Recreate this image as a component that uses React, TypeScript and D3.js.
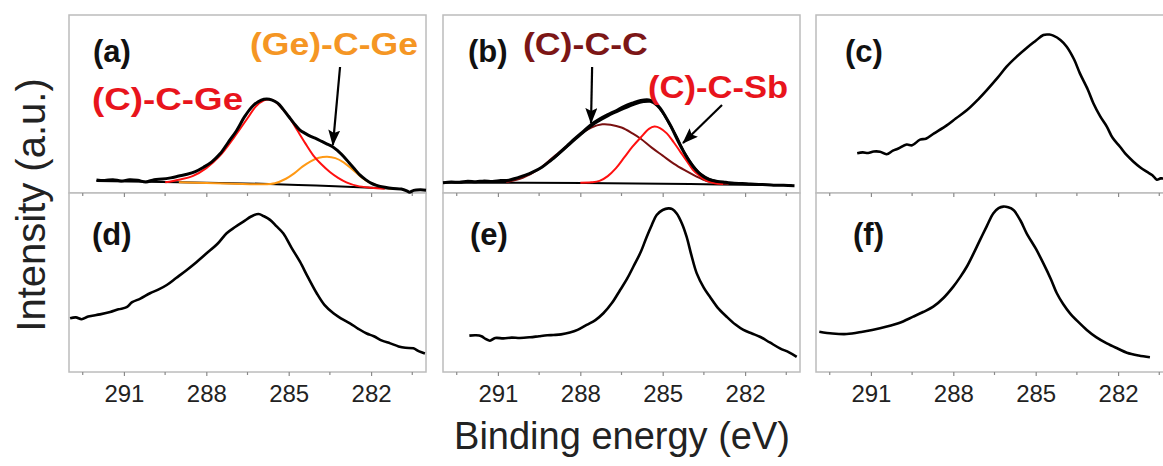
import React, { useEffect, useRef } from 'react';
import * as d3 from 'd3';

type Pt = [number, number]; // [binding energy (eV), intensity (a.u., 0..1 of panel)]

// x axis
const energyDomain: [number, number] = [293, 280];
const majorTicks = [291, 288, 285, 282];
const minorTicks = [292.5, 289.5, 286.5, 283.5, 280.5];

// (a) measured spectrum + fit
const aData: Pt[] = [
  [292.0, 0.073], [291.7, 0.070], [291.4, 0.075], [291.1, 0.068], [290.8, 0.074], [290.5, 0.071],
  [290.2, 0.062], [289.9, 0.075], [289.6, 0.078], [289.3, 0.085], [289.0, 0.095], [288.7, 0.105],
  [288.4, 0.12], [288.1, 0.145], [287.8, 0.175], [287.5, 0.22], [287.2, 0.285], [286.9, 0.35],
  [286.6, 0.43], [286.3, 0.49], [286.0, 0.522], [285.8, 0.528], [285.6, 0.522], [285.4, 0.505],
  [285.2, 0.47], [285.0, 0.43], [284.8, 0.39], [284.6, 0.355], [284.4, 0.335], [284.2, 0.318],
  [284.0, 0.305], [283.8, 0.29], [283.6, 0.275], [283.4, 0.26], [283.2, 0.235], [283.0, 0.205],
  [282.8, 0.17], [282.6, 0.135], [282.4, 0.10], [282.2, 0.075], [282.0, 0.055], [281.8, 0.043],
  [281.5, 0.032], [281.2, 0.025], [280.9, 0.022], [280.7, 0.012], [280.6, 0.004], [280.45, 0.015],
  [280.2, 0.018], [280.0, 0.016],
];
const aBackground: Pt[] = [[292.0, 0.067], [289.0, 0.06], [286.0, 0.052], [284.0, 0.042], [282.0, 0.03], [281.0, 0.022]];
const aCCGe: Pt[] = [
  [289.5, 0.06], [289.0, 0.075], [288.5, 0.095], [288.0, 0.14], [287.5, 0.21], [287.0, 0.31],
  [286.5, 0.42], [286.2, 0.485], [285.9, 0.52], [285.7, 0.525], [285.5, 0.515], [285.3, 0.485],
  [285.0, 0.43], [284.7, 0.355], [284.4, 0.28], [284.1, 0.21], [283.8, 0.16], [283.5, 0.118],
  [283.2, 0.085], [282.9, 0.06], [282.5, 0.04], [282.0, 0.03], [281.5, 0.024],
];
const aGeCGe: Pt[] = [
  [289.0, 0.06], [288.0, 0.056], [287.0, 0.052], [286.0, 0.049], [285.5, 0.055], [285.1, 0.08],
  [284.8, 0.11], [284.5, 0.148], [284.2, 0.178], [283.9, 0.198], [283.6, 0.204], [283.3, 0.196],
  [283.0, 0.172], [282.7, 0.135], [282.4, 0.095], [282.1, 0.062], [281.8, 0.043], [281.5, 0.03],
  [281.2, 0.024],
];

// (b) measured spectrum + fit
const bData: Pt[] = [
  [293.0, 0.058], [292.7, 0.062], [292.4, 0.060], [292.1, 0.066], [291.8, 0.063], [291.5, 0.068],
  [291.2, 0.065], [290.9, 0.070], [290.6, 0.072], [290.3, 0.085], [290.0, 0.10], [289.7, 0.12],
  [289.4, 0.145], [289.1, 0.18], [288.8, 0.22], [288.5, 0.262], [288.2, 0.305], [287.9, 0.345],
  [287.6, 0.385], [287.3, 0.415], [287.0, 0.44], [286.7, 0.462], [286.4, 0.487], [286.1, 0.505],
  [285.8, 0.52], [285.5, 0.523], [285.3, 0.51], [285.1, 0.478], [284.9, 0.43], [284.7, 0.375],
  [284.5, 0.31], [284.3, 0.25], [284.1, 0.195], [283.9, 0.15], [283.7, 0.115], [283.5, 0.09],
  [283.3, 0.075], [283.0, 0.065], [282.7, 0.06], [282.4, 0.055], [282.1, 0.053], [281.8, 0.05],
  [281.5, 0.048], [281.2, 0.047], [280.9, 0.044], [280.6, 0.043], [280.2, 0.041],
];
const bEnvelope: Pt[] = [
  [289.0, 0.19], [288.5, 0.258], [288.0, 0.325], [287.5, 0.388], [287.0, 0.432], [286.5, 0.468],
  [286.0, 0.5], [285.7, 0.512], [285.45, 0.513], [285.2, 0.49], [285.0, 0.452], [284.8, 0.4],
  [284.5, 0.318], [284.2, 0.225], [283.9, 0.155], [283.6, 0.105], [283.3, 0.078], [283.0, 0.064],
];
const bBackground: Pt[] = [[293.0, 0.058], [290.0, 0.058], [287.0, 0.055], [284.0, 0.05], [281.0, 0.045], [280.3, 0.043]];
const bCCC: Pt[] = [
  [290.7, 0.06], [290.1, 0.085], [289.5, 0.135], [289.0, 0.2], [288.5, 0.262], [288.0, 0.33],
  [287.6, 0.368], [287.2, 0.386], [286.9, 0.384], [286.5, 0.368], [286.1, 0.335], [285.8, 0.305],
  [285.4, 0.255], [285.0, 0.21], [284.6, 0.165], [284.2, 0.128], [283.8, 0.095], [283.4, 0.067],
  [283.0, 0.055], [282.6, 0.05],
];
const bCCSb: Pt[] = [
  [288.0, 0.058], [287.6, 0.06], [287.3, 0.068], [287.0, 0.095], [286.7, 0.14], [286.4, 0.2],
  [286.1, 0.26], [285.8, 0.312], [285.5, 0.36], [285.3, 0.373], [285.1, 0.365], [284.85, 0.335],
  [284.6, 0.285], [284.35, 0.23], [284.1, 0.175], [283.9, 0.13], [283.65, 0.095], [283.4, 0.068],
  [283.1, 0.055], [282.8, 0.05],
];

// (c)-(f) measured spectra
const cData: Pt[] = [
  [291.5, 0.223], [291.3, 0.228], [291.1, 0.225], [290.9, 0.233], [290.67, 0.232], [290.43, 0.218],
  [290.2, 0.238], [290.0, 0.25], [289.7, 0.272], [289.5, 0.268], [289.21, 0.30], [289.0, 0.305],
  [288.7, 0.335], [288.24, 0.38], [287.9, 0.42], [287.5, 0.466], [287.1, 0.525], [286.78, 0.578],
  [286.4, 0.645], [286.06, 0.71], [285.7, 0.765], [285.33, 0.815], [285.0, 0.855], [284.72, 0.888],
  [284.5, 0.89], [284.36, 0.884], [284.1, 0.86], [283.87, 0.822], [283.6, 0.75], [283.39, 0.672],
  [283.1, 0.58], [282.9, 0.504], [282.65, 0.43], [282.41, 0.373], [282.2, 0.31], [281.93, 0.26],
  [281.7, 0.215], [281.44, 0.176], [281.2, 0.145], [280.96, 0.12], [280.75, 0.1], [280.59, 0.075],
  [280.45, 0.082], [280.3, 0.08],
];
const dData: Pt[] = [
  [292.96, 0.30], [292.75, 0.305], [292.54, 0.295], [292.3, 0.31], [291.87, 0.322], [291.5, 0.335],
  [291.2, 0.35], [290.9, 0.362], [290.7, 0.39], [290.4, 0.41], [290.05, 0.44], [289.75, 0.46],
  [289.44, 0.486], [289.1, 0.525], [288.71, 0.57], [288.35, 0.615], [287.99, 0.663], [287.6, 0.715],
  [287.26, 0.775], [286.95, 0.81], [286.65, 0.84], [286.35, 0.87], [286.1, 0.883], [285.9, 0.87],
  [285.68, 0.85], [285.45, 0.815], [285.2, 0.775], [284.9, 0.695], [284.59, 0.616], [284.3, 0.53],
  [283.98, 0.44], [283.7, 0.375], [283.37, 0.328], [283.1, 0.3], [282.77, 0.272], [282.45, 0.24],
  [282.16, 0.215], [281.9, 0.2], [281.6, 0.175], [281.3, 0.16], [281.0, 0.143], [280.75, 0.135],
  [280.46, 0.132], [280.25, 0.115], [280.04, 0.104],
];
const eData: Pt[] = [
  [292.04, 0.203], [291.8, 0.205], [291.6, 0.2], [291.45, 0.185], [291.29, 0.175], [291.1, 0.19],
  [290.8, 0.188], [290.5, 0.192], [290.2, 0.19], [289.83, 0.194], [289.5, 0.2], [289.2, 0.205],
  [288.98, 0.207], [288.7, 0.21], [288.38, 0.22], [288.1, 0.235], [287.77, 0.263], [287.45, 0.29],
  [287.16, 0.328], [286.85, 0.385], [286.55, 0.458], [286.3, 0.52], [286.07, 0.588], [285.8, 0.67],
  [285.58, 0.756], [285.4, 0.82], [285.22, 0.877], [285.0, 0.905], [284.79, 0.914], [284.65, 0.91],
  [284.49, 0.886], [284.3, 0.83], [284.13, 0.756], [283.95, 0.65], [283.76, 0.551], [283.5, 0.47],
  [283.28, 0.42], [283.0, 0.36], [282.67, 0.309], [282.35, 0.265], [282.06, 0.235], [281.75, 0.215],
  [281.46, 0.197], [281.1, 0.165], [280.73, 0.132], [280.4, 0.11], [280.12, 0.085],
];
const fData: Pt[] = [
  [292.88, 0.225], [292.4, 0.215], [291.88, 0.212], [291.3, 0.225], [290.67, 0.244], [290.0, 0.272],
  [289.46, 0.309], [289.1, 0.335], [288.73, 0.365], [288.35, 0.415], [288.0, 0.477], [287.75, 0.53],
  [287.51, 0.588], [287.27, 0.66], [287.03, 0.737], [286.78, 0.815], [286.54, 0.887], [286.35, 0.915],
  [286.18, 0.924], [286.0, 0.92], [285.81, 0.905], [285.55, 0.845], [285.33, 0.775], [285.0, 0.69],
  [284.72, 0.607], [284.45, 0.52], [284.23, 0.44], [284.0, 0.38], [283.75, 0.328], [283.45, 0.28],
  [283.14, 0.235], [282.8, 0.195], [282.41, 0.16], [282.0, 0.13], [281.68, 0.108], [281.25, 0.092],
  [280.84, 0.082],
];

const colors = {
  data: '#000000', red: '#ff1010', orange: '#ff9914', maroon: '#7a1010',
  redText: '#e8141c', orangeText: '#f59624', maroonText: '#7c1616',
  frame: '#bcbcbc', tick: '#8a8a8a', text: '#222222',
};

type Series = { pts: Pt[]; color: string; width: number };
type Panel = { label: string; col: number; row: number; labelDx: number; series: Series[] };

const panels: Panel[] = [
  { label: '(a)', col: 0, row: 0, labelDx: 24, series: [
    { pts: aBackground, color: colors.data, width: 2 },
    { pts: aGeCGe, color: colors.orange, width: 2 },
    { pts: aCCGe, color: colors.red, width: 2 },
    { pts: aData, color: colors.data, width: 3 },
  ] },
  { label: '(b)', col: 1, row: 0, labelDx: 25, series: [
    { pts: bBackground, color: colors.data, width: 2 },
    { pts: bCCC, color: colors.maroon, width: 2 },
    { pts: bCCSb, color: colors.red, width: 2 },
    { pts: bEnvelope, color: colors.data, width: 2.4 },
    { pts: bData, color: colors.data, width: 3 },
  ] },
  { label: '(c)', col: 2, row: 0, labelDx: 29, series: [{ pts: cData, color: colors.data, width: 2.6 }] },
  { label: '(d)', col: 0, row: 1, labelDx: 23, series: [{ pts: dData, color: colors.data, width: 2.6 }] },
  { label: '(e)', col: 1, row: 1, labelDx: 27, series: [{ pts: eData, color: colors.data, width: 2.6 }] },
  { label: '(f)', col: 2, row: 1, labelDx: 37, series: [{ pts: fData, color: colors.data, width: 2.6 }] },
];

// peak labels and arrows, in data coordinates of their panel
const peakLabels = [
  { panel: '(a)', text: '(C)-C-Ge', e: 292.16, v: 0.466, len: 151, color: colors.redText },
  { panel: '(a)', text: '(Ge)-C-Ge', e: 286.41, v: 0.775, len: 168, color: colors.orangeText },
  { panel: '(b)', text: '(C)-C-C', e: 290.09, v: 0.775, len: 125, color: colors.maroonText },
  { panel: '(b)', text: '(C)-C-Sb', e: 285.53, v: 0.534, len: 140, color: colors.redText },
];
const arrows = [
  { panel: '(a)', from: [283.13, 0.708], to: [283.39, 0.27] },
  { panel: '(b)', from: [287.57, 0.708], to: [287.61, 0.393] },
  { panel: '(b)', from: [282.84, 0.494], to: [284.26, 0.281] },
];

const W = 1163, H = 466;
const colLeft = [69, 443, 816];
const panelW = 357;
const rowTop = [15, 193];
const rowBottom = [193, 372];
const font = '"Liberation Sans", Arial, sans-serif';

export default function App() {
  const ref = useRef<SVGSVGElement>(null);

  useEffect(() => {
    if (!ref.current) return;
    const svg = d3.select(ref.current);
    svg.selectAll('*').remove();

    svg.append('defs').append('marker').attr('id', 'arrowhead')
      .attr('markerUnits', 'userSpaceOnUse').attr('markerWidth', 16).attr('markerHeight', 12)
      .attr('refX', 15).attr('refY', 6).attr('orient', 'auto')
      .append('path').attr('d', 'M0,0 L16,6 L0,12 L3,6 z').attr('fill', '#000');

    const scales = panels.map(p => ({
      x: d3.scaleLinear().domain(energyDomain).range([colLeft[p.col], colLeft[p.col] + panelW]),
      y: d3.scaleLinear().domain([0, 1]).range([rowBottom[p.row], rowTop[p.row]]),
    }));

    // frames first so that ticks of the top row stay visible
    panels.forEach((p, i) => {
      const { x, y } = scales[i];
      svg.append('rect').attr('x', x(energyDomain[0])).attr('y', y(1))
        .attr('width', panelW).attr('height', y(0) - y(1))
        .attr('fill', '#fff').attr('stroke', colors.frame).attr('stroke-width', 1.5);
    });

    panels.forEach((p, i) => {
      const { x, y } = scales[i];
      const g = svg.append('g');

      const ax = g.append('g').attr('transform', `translate(0,${y(0)})`)
        .call(d3.axisBottom(x).tickValues(majorTicks).tickSize(4).tickPadding(9)
          .tickFormat(p.row === 1 ? (d3.format('d') as any) : () => ''));
      ax.select('.domain').remove();
      ax.selectAll('line').attr('stroke', colors.tick).attr('stroke-width', 1.2);
      ax.selectAll('text').attr('font-size', 24).attr('font-family', font).attr('fill', colors.text);
      g.append('g').selectAll('line').data(minorTicks).enter().append('line')
        .attr('x1', d => x(d)).attr('x2', d => x(d)).attr('y1', y(0)).attr('y2', y(0) + 3)
        .attr('stroke', colors.tick).attr('stroke-width', 1.2);

      const line = d3.line<Pt>().x(d => x(d[0])).y(d => y(d[1])).curve(d3.curveCatmullRom.alpha(0.5));
      p.series.forEach(s => {
        g.append('path').datum(s.pts).attr('d', line as any).attr('fill', 'none')
          .attr('stroke', s.color).attr('stroke-width', s.width).attr('stroke-linejoin', 'round');
      });

      g.append('text').attr('x', x(energyDomain[0]) + p.labelDx).attr('y', rowTop[p.row] + (p.row === 0 ? 47 : 52))
        .attr('font-family', font).attr('font-weight', 'bold').attr('font-size', 31)
        .attr('fill', '#111').text(p.label);

      peakLabels.filter(l => l.panel === p.label).forEach(l => {
        g.append('text').attr('x', x(l.e)).attr('y', y(l.v)).attr('font-family', font)
          .attr('font-weight', 'bold').attr('font-size', 31).attr('fill', l.color)
          .attr('textLength', l.len).attr('lengthAdjust', 'spacingAndGlyphs').text(l.text);
      });
      arrows.filter(a => a.panel === p.label).forEach(a => {
        g.append('line').attr('x1', x(a.from[0])).attr('y1', y(a.from[1]))
          .attr('x2', x(a.to[0])).attr('y2', y(a.to[1]))
          .attr('stroke', '#000').attr('stroke-width', 2.2).attr('marker-end', 'url(#arrowhead)');
      });
    });

    svg.append('text').attr('transform', 'translate(45,205) rotate(-90)').attr('text-anchor', 'middle')
      .attr('font-family', font).attr('font-size', 40).attr('fill', colors.text).text('Intensity (a.u.)');
    svg.append('text').attr('x', 622).attr('y', 449).attr('text-anchor', 'middle')
      .attr('font-family', font).attr('font-size', 38).attr('fill', colors.text).text('Binding energy (eV)');
  }, []);

  return <svg ref={ref} width={W} height={H} style={{ position: 'absolute', left: 0, top: 0, background: '#fff' }} />;
}
